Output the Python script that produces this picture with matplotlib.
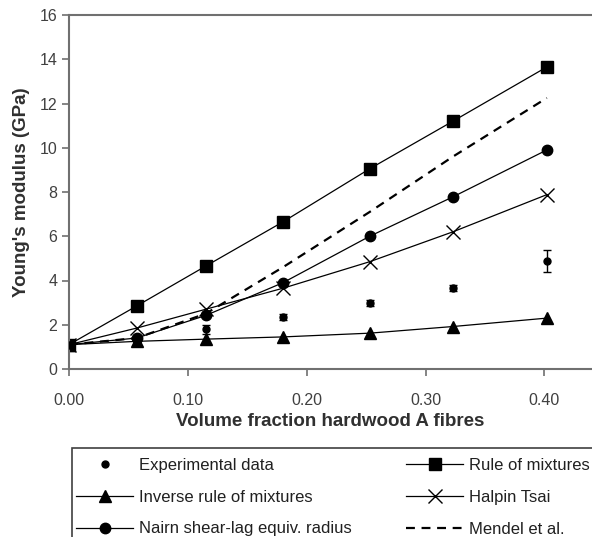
import matplotlib
matplotlib.use("Agg")
import matplotlib.pyplot as plt
from matplotlib.patches import Rectangle

plt.rcParams['font.family'] = ['Liberation Sans', 'DejaVu Sans']

vf = [0.0, 0.057, 0.115, 0.18, 0.253, 0.323, 0.402]
exp_y = [1.1, 1.3, 1.8, 2.35, 2.98, 3.66, 4.88]
exp_err = [0.05, 0.1, 0.2, 0.12, 0.12, 0.15, 0.48]
rule_mix = [1.1, 2.85, 4.65, 6.65, 9.05, 11.2, 13.65]
inv_rule = [1.1, 1.25, 1.35, 1.45, 1.62, 1.92, 2.3]
halpin = [1.1, 1.85, 2.7, 3.65, 4.85, 6.2, 7.88]
nairn = [1.1, 1.4, 2.42, 3.9, 6.0, 7.78, 9.9]
mendel = [1.1, 1.4, 2.5, 4.6, 7.1, 9.6, 12.25]

xticks = [0.0, 0.1, 0.2, 0.3, 0.4]
xticklabels = ["0.00", "0.10", "0.20", "0.30", "0.40"]
yticks = [0, 2, 4, 6, 8, 10, 12, 14, 16]

W, H = 592, 537
fig = plt.figure(figsize=(W/100, H/100), dpi=100)
ax = fig.add_axes([69/W, 1-369/H, 1-69/W, (369-15)/H])

lw = 0.9
ax.errorbar(vf, exp_y, yerr=exp_err, fmt='none', ecolor='black',
            elinewidth=1.0, capsize=3, capthick=1.0, zorder=3)
h_exp, = ax.plot(vf, exp_y, 'o', color='black', markersize=5, linestyle='none',
                 label='Experimental data', zorder=4)
h_rule, = ax.plot(vf, rule_mix, '-s', color='black', lw=lw, markersize=8.5,
                  label='Rule of mixtures')
h_inv, = ax.plot(vf, inv_rule, '-^', color='black', lw=lw, markersize=8,
                 label='Inverse rule of mixtures')
h_hal, = ax.plot(vf, halpin, '-x', color='black', lw=lw, markersize=10,
                 markeredgewidth=1.0, label='Halpin Tsai')
h_nai, = ax.plot(vf, nairn, '-o', color='black', lw=lw, markersize=7.5,
                 label='Nairn shear-lag equiv. radius')
h_men, = ax.plot(vf, mendel, '--', color='black', lw=1.6, dashes=(4, 3),
                 label='Mendel et al.')

ax.set_xlim(0, 0.44)
ax.set_ylim(0, 16)
ax.set_xticks(xticks)
ax.set_xticklabels(xticklabels)
ax.set_yticks(yticks)

for s in ['left', 'bottom', 'top']:
    ax.spines[s].set_color('#707070')
    ax.spines[s].set_linewidth(1.5)
ax.spines['right'].set_visible(False)
ax.tick_params(axis='both', direction='out', length=5, width=1.2,
               color='#707070', labelsize=11.5, labelcolor='#404040')
ax.tick_params(axis='x', pad=12)

ax.set_xlabel('Volume fraction hardwood A fibres', fontsize=13.5,
              fontweight='bold', color='#303030', labelpad=4)
ax.set_ylabel("Young's modulus (GPa)", fontsize=13.5, fontweight='bold',
              color='#303030', labelpad=7)

# legend box frame (extends past the figure edges, as in the cropped original)
fig.patches.append(Rectangle((72/W, 1-448/H - 200/H), 700/W, 200/H,
                             transform=fig.transFigure, fill=False,
                             edgecolor='#404040', linewidth=1.2))

handles = [h_exp, h_inv, h_nai, h_rule, h_hal, h_men]
leg = fig.legend(handles=handles, loc='upper left',
                 bbox_to_anchor=(72/W, 1-454/H), ncol=2,
                 fontsize=12, frameon=False,
                 handlelength=3.4, columnspacing=3.3, handletextpad=0.35,
                 labelspacing=1.0, borderpad=0.25, borderaxespad=0)
for t in leg.get_texts():
    t.set_color('#202020')

fig.savefig('out.png', dpi=100)
